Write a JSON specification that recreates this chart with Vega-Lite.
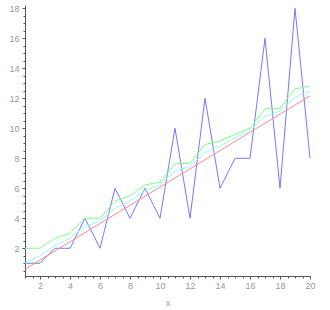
{
  "$schema": "https://vega.github.io/schema/vega-lite/v6.json",
  "width": 285,
  "height": 271,
  "autosize": "none",
  "padding": {"left": 25, "top": 5, "right": 20, "bottom": 34},
  "background": "white",
  "config": {"view": {"stroke": null}},
  "datasets": {
    "pts": [
      {"x": 1, "y": 1, "s": "phi"}, {"x": 2, "y": 1, "s": "phi"}, {"x": 3, "y": 2, "s": "phi"}, {"x": 4, "y": 2, "s": "phi"},
      {"x": 5, "y": 4, "s": "phi"}, {"x": 6, "y": 2, "s": "phi"}, {"x": 7, "y": 6, "s": "phi"}, {"x": 8, "y": 4, "s": "phi"},
      {"x": 9, "y": 6, "s": "phi"}, {"x": 10, "y": 4, "s": "phi"}, {"x": 11, "y": 10, "s": "phi"}, {"x": 12, "y": 4, "s": "phi"},
      {"x": 13, "y": 12, "s": "phi"}, {"x": 14, "y": 6, "s": "phi"}, {"x": 15, "y": 8, "s": "phi"}, {"x": 16, "y": 8, "s": "phi"},
      {"x": 17, "y": 16, "s": "phi"}, {"x": 18, "y": 6, "s": "phi"}, {"x": 19, "y": 18, "s": "phi"}, {"x": 20, "y": 8, "s": "phi"},
      {"x": 1, "y": 0.6079, "s": "avg"}, {"x": 20, "y": 12.1585, "s": "avg"},
      {"x": 1, "y": 2, "s": "sum2"}, {"x": 2, "y": 2, "s": "sum2"}, {"x": 3, "y": 2.6667, "s": "sum2"}, {"x": 4, "y": 3, "s": "sum2"},
      {"x": 5, "y": 4, "s": "sum2"}, {"x": 6, "y": 4, "s": "sum2"}, {"x": 7, "y": 5.1429, "s": "sum2"}, {"x": 8, "y": 5.5, "s": "sum2"},
      {"x": 9, "y": 6.2222, "s": "sum2"}, {"x": 10, "y": 6.4, "s": "sum2"}, {"x": 11, "y": 7.6364, "s": "sum2"}, {"x": 12, "y": 7.6667, "s": "sum2"},
      {"x": 13, "y": 8.9231, "s": "sum2"}, {"x": 14, "y": 9.1429, "s": "sum2"}, {"x": 15, "y": 9.6, "s": "sum2"}, {"x": 16, "y": 10, "s": "sum2"},
      {"x": 17, "y": 11.2941, "s": "sum2"}, {"x": 18, "y": 11.3333, "s": "sum2"}, {"x": 19, "y": 12.6316, "s": "sum2"}, {"x": 20, "y": 12.8, "s": "sum2"},
      {"x": 1, "y": 1, "s": "sumk"}, {"x": 2, "y": 1.5, "s": "sumk"}, {"x": 3, "y": 2.1667, "s": "sumk"}, {"x": 4, "y": 2.6667, "s": "sumk"},
      {"x": 5, "y": 3.4667, "s": "sumk"}, {"x": 6, "y": 3.8, "s": "sumk"}, {"x": 7, "y": 4.6571, "s": "sumk"}, {"x": 8, "y": 5.1571, "s": "sumk"},
      {"x": 9, "y": 5.8238, "s": "sumk"}, {"x": 10, "y": 6.2238, "s": "sumk"}, {"x": 11, "y": 7.1329, "s": "sumk"}, {"x": 12, "y": 7.4662, "s": "sumk"},
      {"x": 13, "y": 8.3893, "s": "sumk"}, {"x": 14, "y": 8.8179, "s": "sumk"}, {"x": 15, "y": 9.3512, "s": "sumk"}, {"x": 16, "y": 9.8512, "s": "sumk"},
      {"x": 17, "y": 10.7924, "s": "sumk"}, {"x": 18, "y": 11.1257, "s": "sumk"}, {"x": 19, "y": 12.0731, "s": "sumk"}, {"x": 20, "y": 12.4731, "s": "sumk"}
    ]
  },
  "data": {"name": "pts"},
  "mark": {"type": "line", "strokeWidth": 1, "clip": false},
  "encoding": {
    "x": {
      "field": "x", "type": "quantitative",
      "scale": {"domain": [1, 20], "nice": false, "zero": false},
      "axis": {
        "title": "x",
        "titleFont": "Liberation Sans", "titleFontSize": 9, "titleFontWeight": "normal", "titleColor": "#999999", "titlePadding": 8,
        "values": [1, 1.5, 2, 2.5, 3, 3.5, 4, 4.5, 5, 5.5, 6, 6.5, 7, 7.5, 8, 8.5, 9, 9.5, 10, 10.5, 11, 11.5, 12, 12.5, 13, 13.5, 14, 14.5, 15, 15.5, 16, 16.5, 17, 17.5, 18, 18.5, 19, 19.5, 20],
        "labelExpr": "abs(datum.value % 2) < 0.001 ? format(datum.value, 'd') : ''",
        "labelOverlap": false, "labelFlush": false,
        "labelFont": "Liberation Sans", "labelFontSize": 9, "labelColor": "#999999", "labelPadding": 2,
        "tickSize": {"condition": {"test": "abs(datum.value % 2) < 0.001", "value": 3}, "value": 2},
        "tickColor": "#555555", "domainColor": "#555555", "grid": false
      }
    },
    "y": {
      "field": "y", "type": "quantitative",
      "scale": {"domain": [0.15, 18.22], "nice": false, "zero": false},
      "axis": {
        "title": null,
        "values": [0.5, 1, 1.5, 2, 2.5, 3, 3.5, 4, 4.5, 5, 5.5, 6, 6.5, 7, 7.5, 8, 8.5, 9, 9.5, 10, 10.5, 11, 11.5, 12, 12.5, 13, 13.5, 14, 14.5, 15, 15.5, 16, 16.5, 17, 17.5, 18],
        "labelExpr": "abs(datum.value % 2) < 0.001 ? format(datum.value, 'd') : ''",
        "labelOverlap": false, "labelFlush": false,
        "labelFont": "Liberation Sans", "labelFontSize": 9, "labelColor": "#999999", "labelPadding": 3,
        "tickSize": {"condition": {"test": "abs(datum.value % 2) < 0.001", "value": 3}, "value": 2},
        "tickColor": "#555555", "domainColor": "#555555", "grid": false
      }
    },
    "color": {
      "field": "s", "type": "nominal",
      "scale": {"domain": ["sum2", "sumk", "avg", "phi"], "range": ["#80ff80", "#90ffff", "#ff8a8a", "#7777ff"]},
      "legend": null
    }
  }
}
